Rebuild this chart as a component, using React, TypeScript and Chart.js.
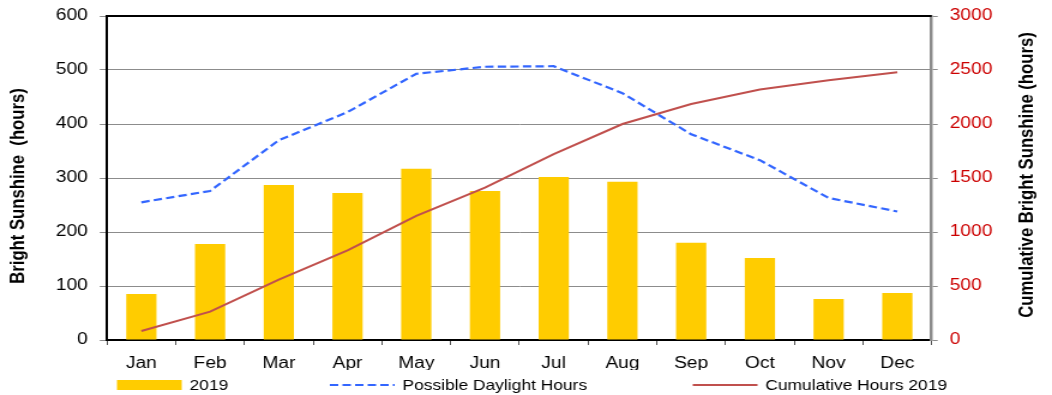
import React, { useEffect, useRef } from "react";
import { Chart, registerables } from "chart.js";

Chart.register(...registerables);

// ---------- data ----------
const months = ["Jan", "Feb", "Mar", "Apr", "May", "Jun", "Jul", "Aug", "Sep", "Oct", "Nov", "Dec"];
const sunshine2019 = [85, 178, 287, 272, 317, 276, 302, 293, 180, 152, 76, 87];
const possibleDaylight = [255, 276, 370, 422, 493, 506, 507, 457, 381, 333, 263, 238];
const cumulative2019 = [83, 263, 560, 830, 1150, 1410, 1720, 2000, 2185, 2320, 2405, 2480];
const seriesNames = ["2019", "Possible Daylight Hours", "Cumulative Hours 2019"];
const leftTitle = "Bright Sunshine  (hours)";
const rightTitle = "Cumulative Bright Sunshine (hours)";
const leftRange = { min: 0, max: 600, step: 100 };
const rightRange = { min: 0, max: 3000, step: 500 };

// ---------- styling ----------
const FONT = '"Liberation Sans", Arial, sans-serif';
const PAGE_W = 1052;
const PAGE_H = 395;
const STRETCH = 1.2; // the reference is horizontally stretched
const CANVAS_W = Math.round(PAGE_W / STRETCH);
const YELLOW = "#ffcc00";
const BLUE = "#3366ff";
const RED = "#c0504d";
const RED_TEXT = "#cc0000";
const GRID = "#8c8c8c";

const decorPlugin = {
  id: "decor",
  afterDraw(chart: any) {
    const { ctx, chartArea: ca } = chart;
    const yL = chart.scales.y;
    const yR = chart.scales.y1;
    ctx.save();
    // top border of plot area
    ctx.strokeStyle = "#000";
    ctx.lineWidth = 2;
    ctx.beginPath();
    ctx.moveTo(ca.left - 1, ca.top);
    ctx.lineTo(ca.right, ca.top);
    ctx.stroke();

    // axis titles (both read bottom-to-top)
    const midY = (ca.top + ca.bottom) / 2;
    ctx.fillStyle = "#000";
    ctx.font = `bold 16.7px ${FONT}`;
    ctx.textAlign = "center";
    ctx.textBaseline = "middle";
    ctx.save();
    ctx.translate(yL.left + 15.8, midY + 8);
    ctx.rotate(-Math.PI / 2);
    ctx.fillText(leftTitle, 0, 0);
    ctx.restore();
    ctx.save();
    ctx.translate(yR.right - 20.3, midY - 3);
    ctx.rotate(-Math.PI / 2);
    ctx.fillText(rightTitle, 0, 0);
    ctx.restore();

    // legend
    const ly = chart.height - 10;
    const sw = 54;
    const starts = [ca.left + 8.3, ca.left + 185.8, ca.left + 488.3];
    ctx.font = `14.5px ${FONT}`;
    ctx.textAlign = "left";
    ctx.textBaseline = "middle";
    starts.forEach((x: number, i: number) => {
      if (i === 0) {
        ctx.fillStyle = YELLOW;
        ctx.fillRect(x, ly - 5, sw, 10);
      } else {
        ctx.strokeStyle = i === 1 ? BLUE : RED;
        ctx.lineWidth = 2;
        ctx.setLineDash(i === 1 ? [7, 3.5] : []);
        ctx.beginPath();
        ctx.moveTo(x, ly);
        ctx.lineTo(x + sw, ly);
        ctx.stroke();
        ctx.setLineDash([]);
      }
      ctx.fillStyle = "#000";
      ctx.fillText(seriesNames[i], x + sw + 6.5, ly + 0.5);
    });
    ctx.restore();
  },
};

export default function App() {
  const ref = useRef<HTMLCanvasElement>(null);

  useEffect(() => {
    const canvas = ref.current;
    if (!canvas) return;
    const chart = new Chart(canvas, {
      type: "bar",
      data: {
        labels: months,
        datasets: [
          {
            type: "bar",
            label: seriesNames[0],
            data: sunshine2019,
            backgroundColor: YELLOW,
            borderWidth: 0,
            barPercentage: 0.44,
            categoryPercentage: 1,
            yAxisID: "y",
            order: 3,
          },
          {
            type: "line",
            label: seriesNames[1],
            data: possibleDaylight,
            borderColor: BLUE,
            backgroundColor: BLUE,
            borderWidth: 2.2,
            borderDash: [7, 3.5],
            pointRadius: 0,
            tension: 0,
            fill: false,
            yAxisID: "y",
            order: 2,
          },
          {
            type: "line",
            label: seriesNames[2],
            data: cumulative2019,
            borderColor: RED,
            backgroundColor: RED,
            borderWidth: 2,
            pointRadius: 0,
            tension: 0,
            fill: false,
            yAxisID: "y1",
            order: 1,
          },
        ],
      } as any,
      options: {
        responsive: false,
        animation: false,
        devicePixelRatio: 1,
        layout: { padding: { top: 16, left: 0, right: 0, bottom: 25 } },
        plugins: {
          legend: { display: false },
          tooltip: { enabled: false },
        },
        scales: {
          x: {
            offset: true,
            z: 1,
            grid: {
              offset: true,
              drawOnChartArea: false,
              drawTicks: true,
              tickLength: 5,
              color: "#555",
            },
            border: { display: true, color: "#000", width: 2 },
            ticks: {
              color: "#000",
              font: { family: FONT, size: 16 },
              padding: 9,
              maxRotation: 0,
              autoSkip: false,
            },
            afterFit: (s: any) => {
              s.height = 30;
            },
          },
          y: {
            position: "left",
            min: leftRange.min,
            max: leftRange.max,
            grid: { color: GRID, lineWidth: 1, drawTicks: true, tickLength: 6 },
            border: { display: true, color: "#000", width: 2 },
            ticks: {
              stepSize: leftRange.step,
              color: "#000",
              font: { family: FONT, size: 16 },
              padding: 10,
              callback: (v: any) => String(v),
            },
            afterFit: (s: any) => {
              s.width = 89.2;
              s.paddingTop = 0;
              s.paddingBottom = 0;
            },
          },
          y1: {
            position: "right",
            min: rightRange.min,
            max: rightRange.max,
            grid: { drawOnChartArea: false, color: GRID, drawTicks: true, tickLength: 5 },
            border: { display: true, color: GRID, width: 2.5 },
            ticks: {
              stepSize: rightRange.step,
              color: RED_TEXT,
              font: { family: FONT, size: 16 },
              padding: 10,
              callback: (v: any) => String(v),
            },
            afterFit: (s: any) => {
              s.width = CANVAS_W - 776.7;
              s.paddingTop = 0;
              s.paddingBottom = 0;
            },
          },
        },
      } as any,
      plugins: [decorPlugin],
    });
    return () => chart.destroy();
  }, []);

  return (
    <div
      style={{
        position: "fixed",
        left: 0,
        top: 0,
        width: PAGE_W,
        height: PAGE_H,
        background: "#fff",
        overflow: "hidden",
      }}
    >
      <canvas
        ref={ref}
        width={CANVAS_W}
        height={PAGE_H}
        style={{ width: `${PAGE_W}px`, height: `${PAGE_H}px`, display: "block" }}
      />
    </div>
  );
}
